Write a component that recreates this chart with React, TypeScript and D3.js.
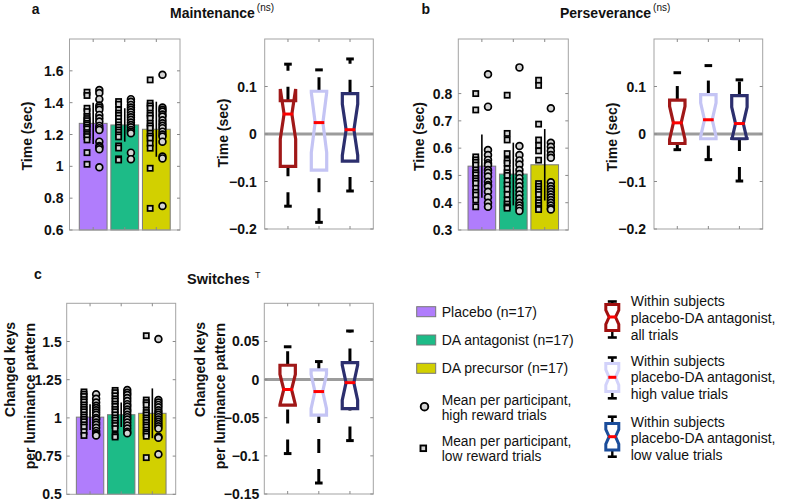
import React from 'react';
import * as d3 from 'd3';

const FONT = '"Liberation Sans", Arial, Helvetica, sans-serif';

// ---------- categories / legend ----------
const groupLabels = ['Placebo (n=17)', 'DA antagonist (n=17)', 'DA precursor (n=17)'];
const markerLabels = [
  ['Mean per participant,', 'high reward trials'],
  ['Mean per participant,', 'low reward trials'],
];
const boxLegendLabels = [
  ['Within subjects', 'placebo-DA antagonist,', 'all trials'],
  ['Within subjects', 'placebo-DA antagonist,', 'high value trials'],
  ['Within subjects', 'placebo-DA antagonist,', 'low value trials'],
];
const barColors = ['#b07dfc', '#1dbb87', '#d2d000'];
const boxColors = ['#a01818', '#c4c4f4', '#2c2f6e'];
const boxLegendColors = ['#a01010', '#d2d2fa', '#1b4d9b'];

// ---------- Maintenance ----------
const maintMeans = [1.27, 1.26, 1.233];
const maintErr = [0.13, 0.105, 0.173];
const maintLow = [
  [1.466, 1.445, 1.365, 1.344, 1.313, 1.3, 1.287, 1.27, 1.26, 1.245, 1.235, 1.212, 1.2, 1.187, 1.166, 1.086, 1.013],
  [1.407, 1.39, 1.355, 1.334, 1.32, 1.302, 1.28, 1.26, 1.245, 1.229, 1.215, 1.198, 1.185, 1.128, 1.115, 1.047, 1.04],
  [1.543, 1.397, 1.38, 1.365, 1.334, 1.32, 1.302, 1.271, 1.255, 1.24, 1.208, 1.19, 1.177, 1.145, 1.114, 0.988, 0.736],
];
const maintHigh = [
  [1.48, 1.46, 1.422, 1.382, 1.37, 1.355, 1.323, 1.302, 1.281, 1.254, 1.24, 1.229, 1.155, 1.128, 1.12, 1.107, 0.994],
  [1.422, 1.405, 1.386, 1.37, 1.355, 1.34, 1.323, 1.308, 1.292, 1.275, 1.26, 1.245, 1.229, 1.218, 1.208, 1.086, 1.045],
  [1.575, 1.369, 1.355, 1.344, 1.325, 1.313, 1.29, 1.271, 1.255, 1.24, 1.218, 1.2, 1.187, 1.155, 1.061, 1.05, 0.751],
];
const maintBarTicks = [0.6, 0.8, 1, 1.2, 1.4, 1.6];
// box stats: [q1, median, q3, lower whisker, upper whisker]
const maintBox = [
  [-0.068, 0.042, 0.07, -0.152, 0.147],
  [-0.076, 0.024, 0.09, -0.186, 0.135],
  [-0.057, 0.009, 0.085, -0.12, 0.158],
];
const diffTicks = [-0.2, -0.1, 0, 0.1];

// ---------- Perseverance ----------
const persMeans = [0.534, 0.505, 0.539];
const persErr = [0.116, 0.115, 0.131];
const persLow = [
  [0.8, 0.74, 0.568, 0.557, 0.548, 0.538, 0.52, 0.51, 0.502, 0.489, 0.48, 0.471, 0.453, 0.438, 0.428, 0.41, 0.385],
  [0.794, 0.654, 0.63, 0.58, 0.555, 0.545, 0.525, 0.51, 0.5, 0.48, 0.465, 0.45, 0.43, 0.41, 0.395, 0.385, 0.38],
  [0.849, 0.83, 0.688, 0.63, 0.61, 0.59, 0.556, 0.47, 0.46, 0.45, 0.44, 0.43, 0.41, 0.4, 0.39, 0.38, 0.375],
];
const persHigh = [
  [0.871, 0.752, 0.593, 0.575, 0.557, 0.545, 0.538, 0.52, 0.51, 0.496, 0.477, 0.465, 0.459, 0.44, 0.42, 0.4, 0.385],
  [0.896, 0.608, 0.575, 0.555, 0.54, 0.52, 0.505, 0.49, 0.475, 0.46, 0.445, 0.43, 0.415, 0.4, 0.39, 0.38, 0.37],
  [0.746, 0.62, 0.605, 0.59, 0.575, 0.565, 0.475, 0.46, 0.45, 0.44, 0.43, 0.42, 0.41, 0.4, 0.39, 0.38, 0.375],
];
const persBarTicks = [0.3, 0.4, 0.5, 0.6, 0.7, 0.8];
const persBox = [
  [-0.02, 0.0235, 0.0715, -0.033, 0.129],
  [-0.01, 0.03, 0.083, -0.054, 0.144],
  [-0.01, 0.022, 0.081, -0.099, 0.114],
];

// ---------- Switches ----------
const switchMeans = [1.005, 1.021, 1.03];
const switchErr = [0.085, 0.08, 0.163];
const switchLow = [
  [1.17, 1.155, 1.14, 1.12, 1.105, 1.085, 1.07, 1.055, 1.04, 1.02, 1.005, 0.99, 0.975, 0.955, 0.94, 0.91, 0.885],
  [1.18, 1.165, 1.145, 1.125, 1.11, 1.09, 1.075, 1.055, 1.04, 1.02, 1.0, 0.985, 0.965, 0.95, 0.93, 0.885, 0.875],
  [1.538, 1.117, 1.1, 1.085, 1.05, 1.035, 1.019, 1.0, 0.986, 0.97, 0.953, 0.94, 0.92, 0.905, 0.895, 0.88, 0.74],
];
const switchHigh = [
  [1.155, 1.125, 1.1, 1.08, 1.065, 1.05, 1.035, 1.02, 1.0, 0.99, 0.97, 0.955, 0.935, 0.915, 0.9, 0.89, 0.885],
  [1.183, 1.165, 1.15, 1.13, 1.11, 1.09, 1.075, 1.055, 1.04, 1.02, 1.005, 0.99, 0.97, 0.95, 0.93, 0.91, 0.9],
  [1.516, 1.117, 1.1, 1.085, 1.07, 1.05, 1.035, 1.02, 1.005, 0.99, 0.975, 0.96, 0.945, 0.93, 0.877, 0.87, 0.762],
];
const switchBarTicks = [0.5, 0.75, 1, 1.25, 1.5];
const switchBox = [
  [-0.0336, -0.013, 0.0188, -0.097, 0.043],
  [-0.0466, -0.0157, 0.0127, -0.1356, 0.0236],
  [-0.038, -0.004, 0.0223, -0.08, 0.0637],
];
const switchDiffTicks = [-0.15, -0.1, -0.05, 0, 0.05];

const N = 17;
const AXIS = '#a3a3a3';
const TICK = '#8a8a8a';

type Rect = { left: number; right: number; top: number; bottom: number };

function Frame({ r, x, y, yTicks, labelGap, fmt }: any) {
  const tl = 3;
  return (
    <g>
      <rect x={r.left} y={r.top} width={r.right - r.left} height={r.bottom - r.top} fill="none" stroke={AXIS} strokeWidth={1} />
      {yTicks.map((t: number) => (
        <g key={'yt' + t}>
          <line x1={r.left} x2={r.left + tl} y1={y(t)} y2={y(t)} stroke={TICK} strokeWidth={1} />
          <line x1={r.right - tl} x2={r.right} y1={y(t)} y2={y(t)} stroke={TICK} strokeWidth={1} />
          <text x={r.left - labelGap} y={y(t)} dy="0.36em" textAnchor="end" fontSize={14} fontWeight="bold" fontFamily={FONT} fill="#111">
            {fmt(t)}
          </text>
        </g>
      ))}
      {[1, 2, 3].map((k) => (
        <g key={'xt' + k}>
          <line x1={x(k)} x2={x(k)} y1={r.top} y2={r.top + tl} stroke={TICK} strokeWidth={1} />
          <line x1={x(k)} x2={x(k)} y1={r.bottom - tl} y2={r.bottom} stroke={TICK} strokeWidth={1} />
        </g>
      ))}
    </g>
  );
}

const fmt = (v: number) => d3.format('~g')(+v.toFixed(3));

function BarPanel({ r, domain, ticks, means, errs, low, high, labelGap }: any) {
  const x = d3.scaleLinear().domain([0.25, 3.75]).range([r.left, r.right]);
  const y = d3.scaleLinear().domain(domain).range([r.bottom, r.top]);
  const bw = 0.88;
  const off = 0.195;
  const sq = 5.2;
  return (
    <g>
      {means.map((m: number, i: number) => (
        <rect key={'b' + i} x={x(i + 1 - bw / 2)} y={y(m)} width={x(i + 1 + bw / 2) - x(i + 1 - bw / 2)} height={y(domain[0]) - y(m)}
          fill={barColors[i]} stroke="#7a7a7a" strokeWidth={1} />
      ))}
      {means.map((m: number, i: number) => (
        <line key={'e' + i} x1={x(i + 1)} x2={x(i + 1)} y1={y(m - errs[i])} y2={y(m + errs[i])} stroke="#000" strokeWidth={1.6} />
      ))}
      {low.map((arr: number[], i: number) =>
        arr.map((v, j) => (
          <rect key={'s' + i + '-' + j} x={x(i + 1 - off) - sq / 2} y={y(v) - sq / 2} width={sq} height={sq} fill="#d4d4d4" stroke="#000" strokeWidth={1.7} />
        ))
      )}
      {high.map((arr: number[], i: number) =>
        arr.map((v, j) => (
          <circle key={'c' + i + '-' + j} cx={x(i + 1 + off)} cy={y(v)} r={3.4} fill="#d4d4d4" stroke="#000" strokeWidth={1.7} />
        ))
      )}
      <Frame r={r} x={x} y={y} yTicks={ticks} labelGap={labelGap} fmt={fmt} />
    </g>
  );
}

function notchPath(cx: number, hw: number, nw: number, y: any, s: number[]) {
  const [q1, med, q3] = s;
  const d = (1.57 * (q3 - q1)) / Math.sqrt(N);
  const nlo = med - d;
  const nhi = med + d;
  const L = cx - hw, R = cx + hw, Li = cx - nw, Ri = cx + nw;
  const pts: [number, number][] = [
    [L, y(q1)], [L, y(nlo)], [Li, y(med)], [L, y(nhi)], [L, y(q3)],
    [R, y(q3)], [R, y(nhi)], [Ri, y(med)], [R, y(nlo)], [R, y(q1)],
  ];
  return d3.line()(pts) + 'Z';
}

function BoxPanel({ r, domain, ticks, stats, labelGap }: any) {
  const x = d3.scaleLinear().domain([0.25, 3.75]).range([r.left, r.right]);
  const y = d3.scaleLinear().domain(domain).range([r.bottom, r.top]);
  const hw = 7.7, nw = 3.9, capw = 3.8;
  return (
    <g>
      <line x1={r.left} x2={r.right} y1={y(0)} y2={y(0)} stroke="#9c9c9c" strokeWidth={3} />
      {stats.map((s: number[], i: number) => {
        const cx = x(i + 1);
        const [q1, med, q3, lo, hi] = s;
        return (
          <g key={'bx' + i}>
            <line x1={cx} x2={cx} y1={y(q3)} y2={y(hi)} stroke="#000" strokeWidth={3} strokeDasharray="14 16" />
            <line x1={cx} x2={cx} y1={y(lo)} y2={y(q1)} stroke="#000" strokeWidth={3} strokeDasharray="14 16" />
            <line x1={cx - capw} x2={cx + capw} y1={y(hi)} y2={y(hi)} stroke="#000" strokeWidth={3} />
            <line x1={cx - capw} x2={cx + capw} y1={y(lo)} y2={y(lo)} stroke="#000" strokeWidth={3} />
            <path d={notchPath(cx, hw, nw, y, s)} fill="none" stroke={boxColors[i]} strokeWidth={3.2} strokeLinejoin="miter" />
            <line x1={cx - nw - 1.4} x2={cx + nw + 1.4} y1={y(med)} y2={y(med)} stroke="#ff0000" strokeWidth={3} />
          </g>
        );
      })}
      <Frame r={r} x={x} y={y} yTicks={ticks} labelGap={labelGap} fmt={fmt} />
    </g>
  );
}

function YLabel({ cx, cy, text }: any) {
  return (
    <text transform={`translate(${cx},${cy}) rotate(-90)`} dy="0.36em" textAnchor="middle" fontSize={14} fontWeight="bold" fontFamily={FONT} fill="#111">
      {text}
    </text>
  );
}

function YLabelEnd({ cx, top, text }: any) {
  return (
    <text transform={`translate(${cx},${top}) rotate(-90)`} dy="0.36em" textAnchor="end" fontSize={14} fontWeight="bold" fontFamily={FONT} fill="#111">
      {text}
    </text>
  );
}

function LegendBoxIcon({ cx, capTop, boxTop, med, boxBottom, capBottom, color }: any) {
  const hw = 6.5, nw = 3.2, cw = 4.5;
  const n1 = boxTop + (med - boxTop) * 0.45;
  const n2 = boxBottom - (boxBottom - med) * 0.45;
  const pts: [number, number][] = [
    [cx - hw, boxTop], [cx - hw, n1], [cx - nw, med], [cx - hw, n2], [cx - hw, boxBottom],
    [cx + hw, boxBottom], [cx + hw, n2], [cx + nw, med], [cx + hw, n1], [cx + hw, boxTop],
  ];
  return (
    <g>
      <line x1={cx} x2={cx} y1={capTop} y2={boxTop} stroke="#000" strokeWidth={2.4} />
      <line x1={cx} x2={cx} y1={boxBottom} y2={capBottom} stroke="#000" strokeWidth={2.4} />
      <line x1={cx - cw} x2={cx + cw} y1={capTop} y2={capTop} stroke="#000" strokeWidth={2.6} />
      <line x1={cx - cw} x2={cx + cw} y1={capBottom} y2={capBottom} stroke="#000" strokeWidth={2.6} />
      <path d={d3.line()(pts) + 'Z'} fill="none" stroke={color} strokeWidth={3} />
      <line x1={cx - nw - 0.8} x2={cx + nw + 0.8} y1={med} y2={med} stroke="#ff0000" strokeWidth={3} />
    </g>
  );
}

function Title({ x, y, main, sup }: any) {
  return (
    <text x={x} y={y} fontSize={14} fontWeight="bold" fontFamily={FONT} fill="#111">
      {main}
      <tspan fontSize={10} fontWeight="normal" dx={2} dy={-7}>{sup}</tspan>
    </text>
  );
}

export default function App() {
  const txt = { fontFamily: FONT, fill: '#111' } as any;
  const rA1: Rect = { left: 69.5, right: 180, top: 39, bottom: 230 };
  const rA2: Rect = { left: 264.7, right: 373.3, top: 39, bottom: 229 };
  const rB1: Rect = { left: 458.3, right: 568.3, top: 39, bottom: 230 };
  const rB2: Rect = { left: 654, right: 762.7, top: 39, bottom: 229 };
  const rC1: Rect = { left: 66.7, right: 175.7, top: 303.3, bottom: 494.3 };
  const rC2: Rect = { left: 264.3, right: 373.3, top: 303.3, bottom: 494 };

  const legendRows = [311.7, 340, 368.3];
  const boxIcons = [
    { capTop: 301.5, boxTop: 304.5, med: 317, boxBottom: 330.5, capBottom: 337.5 },
    { capTop: 357.5, boxTop: 363.5, med: 377.3, boxBottom: 391.5, capBottom: 398.3 },
    { capTop: 416.7, boxTop: 423.5, med: 436.7, boxBottom: 450, capBottom: 456.7 },
  ];
  const boxTextBase = [306, 365.5, 426.5];

  return (
    <svg width={787} height={501} style={{ position: 'absolute', left: 0, top: 0, background: '#fff' }}>
      <rect x={0} y={0} width={787} height={501} fill="#fff" />
      {/* titles */}
      <text x={35.7} y={14} textAnchor="middle" fontSize={14} fontWeight="bold" {...txt}>a</text>
      <Title x={170} y={18} main="Maintenance" sup="(ns)" />
      <text x={425.7} y={14} textAnchor="middle" fontSize={14} fontWeight="bold" {...txt}>b</text>
      <Title x={560} y={18} main="Perseverance" sup="(ns)" />
      <text x={38} y={279} textAnchor="middle" fontSize={14} fontWeight="bold" {...txt}>c</text>
      <text x={187} y={284} fontSize={14.5} fontWeight="bold" {...txt}>Switches</text>
      <text x={255} y={278} fontSize={9} {...txt}>T</text>

      <BarPanel r={rA1} domain={[0.6, 1.8]} ticks={maintBarTicks} means={maintMeans} errs={maintErr} low={maintLow} high={maintHigh} labelGap={6} />
      <BoxPanel r={rA2} domain={[-0.2, 0.2]} ticks={diffTicks} stats={maintBox} labelGap={8} />
      <BarPanel r={rB1} domain={[0.3, 1.0]} ticks={persBarTicks} means={persMeans} errs={persErr} low={persLow} high={persHigh} labelGap={6} />
      <BoxPanel r={rB2} domain={[-0.2, 0.2]} ticks={diffTicks} stats={persBox} labelGap={8} />
      <BarPanel r={rC1} domain={[0.5, 1.75]} ticks={switchBarTicks} means={switchMeans} errs={switchErr} low={switchLow} high={switchHigh} labelGap={5} />
      <BoxPanel r={rC2} domain={[-0.15, 0.1]} ticks={switchDiffTicks} stats={switchBox} labelGap={5} />

      <YLabel cx={26.7} cy={136} text="Time (sec)" />
      <YLabel cx={223.3} cy={133} text="Time (sec)" />
      <YLabel cx={419.3} cy={136.5} text="Time (sec)" />
      <YLabel cx={612.3} cy={137} text="Time (sec)" />
      <YLabelEnd cx={10} top={322} text="Changed keys" />
      <YLabelEnd cx={30} top={323} text="per luminance pattern" />
      <YLabelEnd cx={200} top={322} text="Changed keys" />
      <YLabelEnd cx={220} top={323} text="per luminance pattern" />

      {/* group legend */}
      {groupLabels.map((g, i) => (
        <g key={'lg' + i}>
          <rect x={416.7} y={legendRows[i] - 5} width={19} height={10} fill={barColors[i]} stroke="#777" strokeWidth={1} />
          <text x={441.7} y={legendRows[i] + 5} fontSize={14} {...txt}>{g}</text>
        </g>
      ))}
      <circle cx={424.5} cy={406.7} r={3.8} fill="#d4d4d4" stroke="#000" strokeWidth={1.9} />
      <text x={441.7} y={405} fontSize={13.8} {...txt}>{markerLabels[0][0]}</text>
      <text x={441.7} y={420} fontSize={13.8} {...txt}>{markerLabels[0][1]}</text>
      <rect x={420.5} y={445.5} width={5.6} height={5.6} fill="#d4d4d4" stroke="#000" strokeWidth={1.9} />
      <text x={441.7} y={445.5} fontSize={13.8} {...txt}>{markerLabels[1][0]}</text>
      <text x={441.7} y={460.5} fontSize={13.8} {...txt}>{markerLabels[1][1]}</text>

      {/* box legend */}
      {boxIcons.map((b, i) => (
        <g key={'bl' + i}>
          <LegendBoxIcon cx={612.3} {...b} color={boxLegendColors[i]} />
          {boxLegendLabels[i].map((t, j) => (
            <text key={j} x={630.7} y={boxTextBase[i] + j * 16.8} fontSize={14} {...txt}>{t}</text>
          ))}
        </g>
      ))}
    </svg>
  );
}
